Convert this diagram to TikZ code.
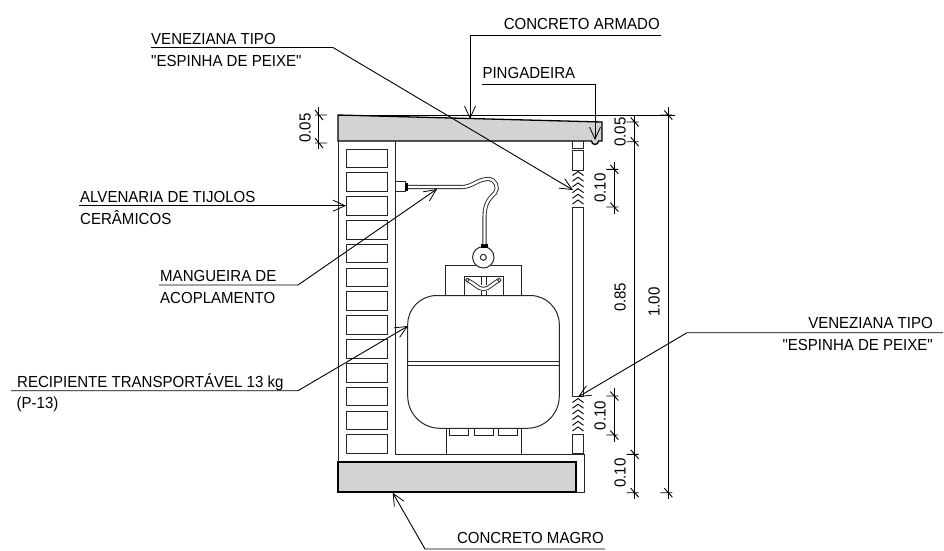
\documentclass[tikz,border=0pt]{standalone}
\usepackage{fontspec}
\newfontfamily\labfont[FakeStretch=0.94]{Liberation Sans}
\usetikzlibrary{arrows.meta}
\definecolor{slabgray}{HTML}{D3D3D3}
\tikzset{
  x=1pt,y=-1pt,
  obj/.style={line width=1pt,draw=black!85},
  heavy/.style={line width=1.3pt,draw=black},
  leader/.style={line width=.9pt,draw=black,-{Straight Barb[length=12pt,width=11pt,line width=.8pt]}},
  dimline/.style={line width=.9pt,draw=black},
  lab/.style={anchor=base west,inner sep=0pt,font=\labfont\fontsize{16}{17}\selectfont},
  labr/.style={anchor=base east,inner sep=0pt,font=\labfont\fontsize{16}{17}\selectfont},
  dimlab/.style={rotate=90,inner sep=0pt,font=\labfont\fontsize{16}{17}\selectfont},
  hose/.style={double=white,double distance=2.3pt,line width=.9pt,draw=black!85},
}
\newcommand{\tickh}[2]{\draw[dimline] (#1-8,#2)--(#1+4,#2) (#1-4,#2-4.5)--(#1+4,#2+4.5);}
\newcommand{\tickl}[2]{\draw[dimline] (#1-3,#2)--(#1+9,#2) (#1-3,#2-5)--(#1+5,#2+5);}
\newcommand{\chev}[1]{\foreach \k in {0,...,5}{\draw[line width=.9pt] (572.5,#1+\k*5.7+4)--(578,#1+\k*5.7)--(583.5,#1+\k*5.7+4);}}
\begin{document}
\begin{tikzpicture}
\useasboundingbox (0,0) rectangle (944,550);
% slabs
\draw[heavy,fill=slabgray] (338,115)--(602,122)--(602,141)--(598.5,141) arc (0:180:3.5)--(338,141)--cycle;
\draw[heavy,fill=slabgray] (338,462) rectangle (576,492);
% wall
\draw[obj] (338,141)--(338,462);
\draw[obj] (395,141)--(395,454)--(584,454)--(584,492)--(576,492);
\foreach \i in {0,...,12}{\draw[obj] (346,149+\i*23.83) rectangle (387.5,167.6+\i*23.83);}
% window
\draw[obj] (572.3,141)--(572.3,148)--(583.3,148)--(583.3,141);
\draw[obj] (572.3,150.7) rectangle (583.3,170);
\draw[obj] (572.3,207) rectangle (583.3,396);
\draw[obj] (572.3,434) rectangle (583.3,453.5);
\chev{171.5}\chev{398.5}
% cylinder
\draw[obj] (407.7,356) -- (407.7,324.5) arc (180:270:29) -- (530.3,295.5) arc (-90:0:29) -- (559.3,396) arc (0:90:32.3) -- (440,428.3) arc (90:180:32.3) -- cycle;
\draw[obj] (407.7,361.7)--(559.3,361.7) (407.7,365)--(559.3,365);
\draw[obj] (446,428.3)--(446,454) (521.3,428.3)--(521.3,454);
\draw[obj] (449.3,428.3)--(449.3,435.3)--(468.7,435.3)--(468.7,428.3);
\draw[obj] (474,428.3)--(474,435.3)--(493.3,435.3)--(493.3,428.3);
\draw[obj] (498.3,428.3)--(498.3,435.3)--(517.7,435.3)--(517.7,428.3);
% handle guard
\draw[obj] (445.7,295.5)--(445.7,265.3)--(521.3,265.3)--(521.3,295.5);
\draw[obj] (464.3,295.5)--(464.3,276.7)--(503,276.7)--(503,295.5);
\draw[obj,line width=.8pt] (481,276.7)--(481,285) (486,276.7)--(486,285);
\draw[hose] (467.3,280) .. controls (474,283) and (478,289) .. (483.5,289) .. controls (489,289) and (493,283) .. (499.3,280);
\draw[obj,line width=.8pt] (481,295.5)--(481,290.5) (486,295.5)--(486,290.5);
\draw[obj,fill=white,line width=.8pt] (467.3,280) circle (1.8) (499.3,280) circle (1.8);
% regulator
\draw[obj,fill=white] (483.3,257.3) circle (10.7);
\draw[obj,fill=white] (483.3,257.3) circle (3);
\fill[black] (481,244) rectangle (488,248);
% hose
\draw[hose] (408,187)--(462,187) .. controls (472,187) and (478,179) .. (488,179) .. controls (496,179) and (499,188) .. (495,193) .. controls (489,199) and (484.5,203) .. (484.5,218)--(484.5,244);
\draw[obj] (395,181.7) rectangle (405,191);
\fill[black] (405,183) rectangle (408,191);
% leaders
\coordinate (v1a) at (151,47.5);\coordinate (v1b) at (333,47.5);\coordinate (v1t) at (573,190);
\draw[leader] (v1a)--(v1b)--(v1t);
\coordinate (ca) at (661,35.5);\coordinate (cb) at (470,35.5);\coordinate (ct) at (470,119);
\draw[leader] (ca)--(cb)--(ct);
\coordinate (pa) at (482,84.7);\coordinate (pb) at (595,84.7);\coordinate (pt) at (595,140);
\draw[leader] (pa)--(pb)--(pt);
\coordinate (aa) at (79,205.7);\coordinate (at) at (346,205.7);
\draw[leader] (aa)--(at);
\coordinate (ma) at (159,285);\coordinate (mb) at (298,285);\coordinate (mt) at (437,189);
\draw[leader] (ma)--(mb)--(mt);
\coordinate (ra) at (11,390.7);\coordinate (rb) at (298,390.7);\coordinate (rt) at (408,326);
\draw[leader] (ra)--(rb)--(rt);
\coordinate (va) at (943,332.7);\coordinate (vb) at (687,332.7);\coordinate (vt) at (578,397);
\draw[leader] (va)--(vb)--(vt);
\coordinate (ma2) at (605,549);\coordinate (mb2) at (425,549);\coordinate (mt2) at (392.7,492.7);
\draw[leader] (ma2)--(mb2)--(mt2);
% dimensions
\draw[dimline] (338,115)--(675,115);
\draw[dimline] (318,107)--(318,149.3); \tickl{318}{115} \tickl{318}{143}
\draw[dimline] (634.7,115)--(634.7,499);
\draw[dimline] (668.3,107)--(668.3,499);
\tickh{634.7}{122} \tickh{634.7}{141.7} \tickh{634.7}{454.3} \tickh{634.7}{492.7}
\tickh{668.3}{115} \tickh{668.3}{492.7}
\draw[dimline] (614.3,161.7)--(614.3,214); \tickh{614.3}{169.3} \tickh{614.3}{207}
\draw[dimline] (614.3,388)--(614.3,441.6); \tickh{614.3}{396} \tickh{614.3}{435}
% dim labels
\node[dimlab] (d1) at (305,128) {0.05};
\node[dimlab] (d2) at (620,132) {0.05};
\node[dimlab] (d3) at (600,188) {0.10};
\node[dimlab] (d4) at (620,297.3) {0.85};
\node[dimlab] (d5) at (654,302) {1.00};
\node[dimlab] (d6) at (600,415.5) {0.10};
\node[dimlab] (d7) at (620,473) {0.10};
% labels
\node[labr] (t1) at (660,29.3) {CONCRETO ARMADO};
\node[lab] (t2) at (151,44) {VENEZIANA TIPO};
\node[lab] (t3) at (151,66) {"ESPINHA DE PEIXE"};
\node[lab] (t4) at (482.3,78.3) {PINGADEIRA};
\node[lab] (t5) at (80,202.3) {ALVENARIA DE TIJOLOS};
\node[lab] (t6) at (80,224) {CERÂMICOS};
\node[lab] (t7) at (160,281.7) {MANGUEIRA DE};
\node[lab] (t8) at (160,303) {ACOPLAMENTO};
\node[lab] (t9) at (17,387.3) {RECIPIENTE TRANSPORTÁVEL 13 kg};
\node[lab] (t10) at (16.5,408) {(P-13)};
\node[labr] (t11) at (933,328.3) {VENEZIANA TIPO};
\node[labr] (t12) at (933,350.7) {"ESPINHA DE PEIXE"};
\node[labr] (t13) at (604,543) {CONCRETO MAGRO};
\end{tikzpicture}
\end{document}
